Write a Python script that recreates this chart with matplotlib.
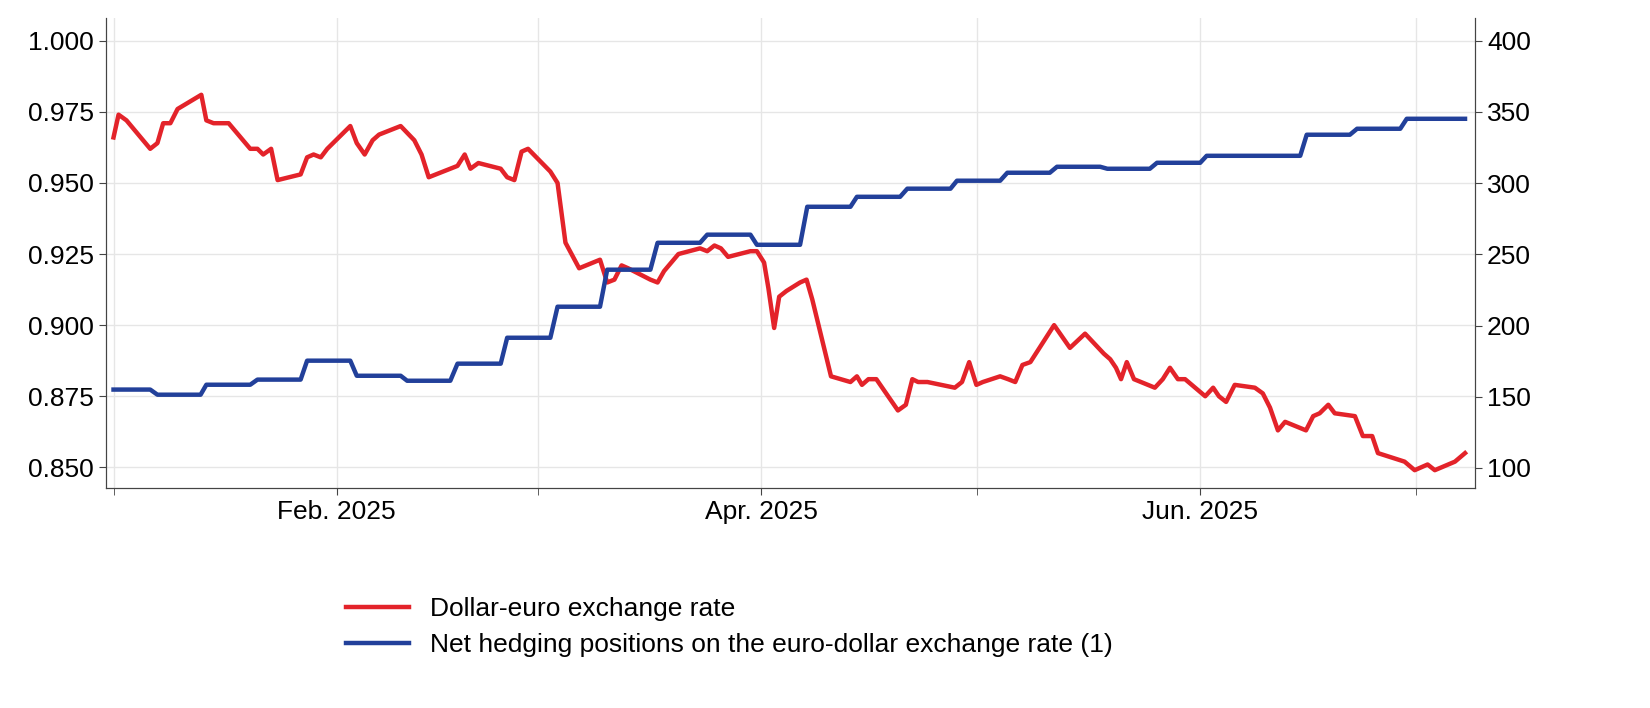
import pandas as pd
import matplotlib
matplotlib.use("Agg")
import matplotlib.pyplot as plt
import matplotlib.dates as mdates

plt.rcParams["font.family"] = "Liberation Sans"

BASE = pd.Timestamp("2025-01-01")

# dollar-euro rate: days since 1 Jan 2025, value
red_day = [0.0, 0.7, 1.8, 5.1, 6.1, 6.9, 7.9, 8.9, 12.2, 12.9, 13.9, 16.0, 19.0, 20.0, 20.8, 21.9, 22.8,
           26.0, 26.9, 27.8, 28.8, 29.7, 32.9, 33.8, 34.9, 36.0, 36.9, 39.9, 41.8, 42.8, 43.8, 47.8, 48.8,
           49.6, 50.7, 53.8, 54.7, 55.7, 56.7, 57.6, 60.7, 61.7, 62.8, 64.7, 67.6, 68.6, 69.6, 70.6, 71.5,
           74.6, 75.6, 76.5, 78.5, 81.5, 82.5, 83.5, 84.4, 85.4, 88.5, 89.4, 90.4, 91.0, 91.8, 92.5, 93.5,
           95.4, 96.3, 97.1, 99.7, 102.4, 103.3, 104.0, 104.9, 106.0, 109.0, 110.1, 111.0, 111.8, 113.1,
           116.9, 117.9, 118.9, 119.9, 120.8, 123.2, 124.3, 125.3, 126.3, 127.4, 130.7, 132.9, 135.0,
           137.6, 138.5, 139.3, 140.0, 140.8, 141.8, 144.7, 145.8, 146.8, 147.9, 148.9, 151.7, 152.8,
           153.6, 154.6, 155.8, 158.6, 159.7, 160.7, 161.8, 162.8, 165.7, 166.7, 167.6, 168.8, 169.7,
           172.5, 173.6, 174.9, 175.7, 179.4, 180.8, 182.6, 183.6, 186.4, 187.8]
red_val = [0.966, 0.974, 0.972, 0.962, 0.964, 0.971, 0.971, 0.976, 0.981, 0.972, 0.971, 0.971, 0.962, 0.962,
           0.960, 0.962, 0.951, 0.953, 0.959, 0.960, 0.959, 0.962, 0.970, 0.964, 0.960, 0.965, 0.967, 0.970,
           0.965, 0.960, 0.952, 0.956, 0.960, 0.955, 0.957, 0.955, 0.952, 0.951, 0.961, 0.962, 0.954, 0.950,
           0.929, 0.920, 0.923, 0.915, 0.916, 0.921, 0.920, 0.916, 0.915, 0.919, 0.925, 0.927, 0.926, 0.928,
           0.927, 0.924, 0.926, 0.926, 0.922, 0.913, 0.899, 0.910, 0.912, 0.915, 0.916, 0.909, 0.882, 0.880,
           0.882, 0.879, 0.881, 0.881, 0.870, 0.872, 0.881, 0.880, 0.880, 0.878, 0.880, 0.887, 0.879, 0.880,
           0.882, 0.881, 0.880, 0.886, 0.887, 0.900, 0.892, 0.897, 0.890, 0.888, 0.885, 0.881, 0.887, 0.881,
           0.878, 0.881, 0.885, 0.881, 0.881, 0.875, 0.878, 0.875, 0.873, 0.879, 0.878, 0.876, 0.871, 0.863,
           0.866, 0.863, 0.868, 0.869, 0.872, 0.869, 0.868, 0.861, 0.861, 0.855, 0.852, 0.849, 0.851, 0.849,
           0.852, 0.855]

# net hedging positions: weekly levels (start day, end day, value)
blue_start = [0.0, 6.1, 12.9, 20.0, 26.9, 33.8, 40.8, 47.8, 54.7, 61.7, 68.6, 75.6, 82.5, 89.4, 96.4,
              103.3, 110.3, 117.2, 124.2, 131.1, 138.1, 145.0, 151.9, 165.8, 172.8, 179.7]
blue_end = [5.1, 12.1, 19.0, 26.0, 32.9, 39.9, 46.8, 53.8, 60.7, 67.6, 74.6, 81.5, 88.5, 95.4, 102.4,
            109.3, 116.3, 123.2, 130.1, 137.1, 144.0, 151.0, 164.9, 171.8, 178.8, 187.8]
blue_val = [155.0, 151.4, 158.4, 162.0, 175.3, 164.7, 161.2, 173.2, 191.4, 213.2, 239.2, 258.1, 263.8,
            256.7, 283.4, 290.4, 296.1, 301.7, 307.3, 311.5, 310.1, 314.3, 319.2, 334.0, 338.2, 345.2]

RED = "#e3232a"
BLUE = "#22409a"

red_x = BASE + pd.to_timedelta(red_day, unit="D")
bx, by = [], []
for s, e, v in zip(blue_start, blue_end, blue_val):
    bx += [s, e]
    by += [v, v]
blue_x = BASE + pd.to_timedelta(bx, unit="D")

fig = plt.figure(figsize=(16.5, 7.08), dpi=100)
ax = fig.add_axes([0.064, 0.311, 0.830, 0.664])
ax2 = ax.twinx()

ax.plot(red_x, red_val, color=RED, lw=3.2, zorder=3)
ax2.plot(blue_x, by, color=BLUE, lw=3.2, zorder=3)

ax.set_xlim(BASE - pd.Timedelta(days=1.1), BASE + pd.Timedelta(days=189.2))
ax.set_ylim(0.8428, 1.0081)
ax2.set_ylim(86.0, 416.2)
ax.set_yticks([0.85, 0.875, 0.9, 0.925, 0.95, 0.975, 1.0])
ax.set_yticklabels(["0.850", "0.875", "0.900", "0.925", "0.950", "0.975", "1.000"])
ax2.set_yticks([100, 150, 200, 250, 300, 350, 400])

ax.xaxis.set_major_locator(mdates.MonthLocator(bymonth=[2, 4, 6]))
ax.xaxis.set_major_formatter(mdates.DateFormatter("%b. %Y"))
ax.xaxis.set_minor_locator(mdates.MonthLocator())
ax.grid(True, which="both", axis="x", color="#e6e6e6", lw=1)
ax.grid(True, axis="y", color="#e6e6e6", lw=1)
ax.set_axisbelow(True)

for a in (ax, ax2):
    a.tick_params(labelsize=19, length=5, color="#444444")
    a.tick_params(which="minor", length=5, color="#444444")
    for sp in a.spines.values():
        sp.set_color("#444444")
ax2.spines["top"].set_visible(False)
ax.spines["top"].set_visible(False)

handles = [plt.Line2D([], [], color=RED, lw=3.2), plt.Line2D([], [], color=BLUE, lw=3.2)]
fig.legend(handles, ["Dollar-euro exchange rate",
                     "Net hedging positions on the euro-dollar exchange rate (1)"],
           loc="upper left", bbox_to_anchor=(0.195, 0.19), frameon=False, fontsize=19,
           handlelength=2.4, labelspacing=0.45)

fig.savefig("out.png", dpi=100)
